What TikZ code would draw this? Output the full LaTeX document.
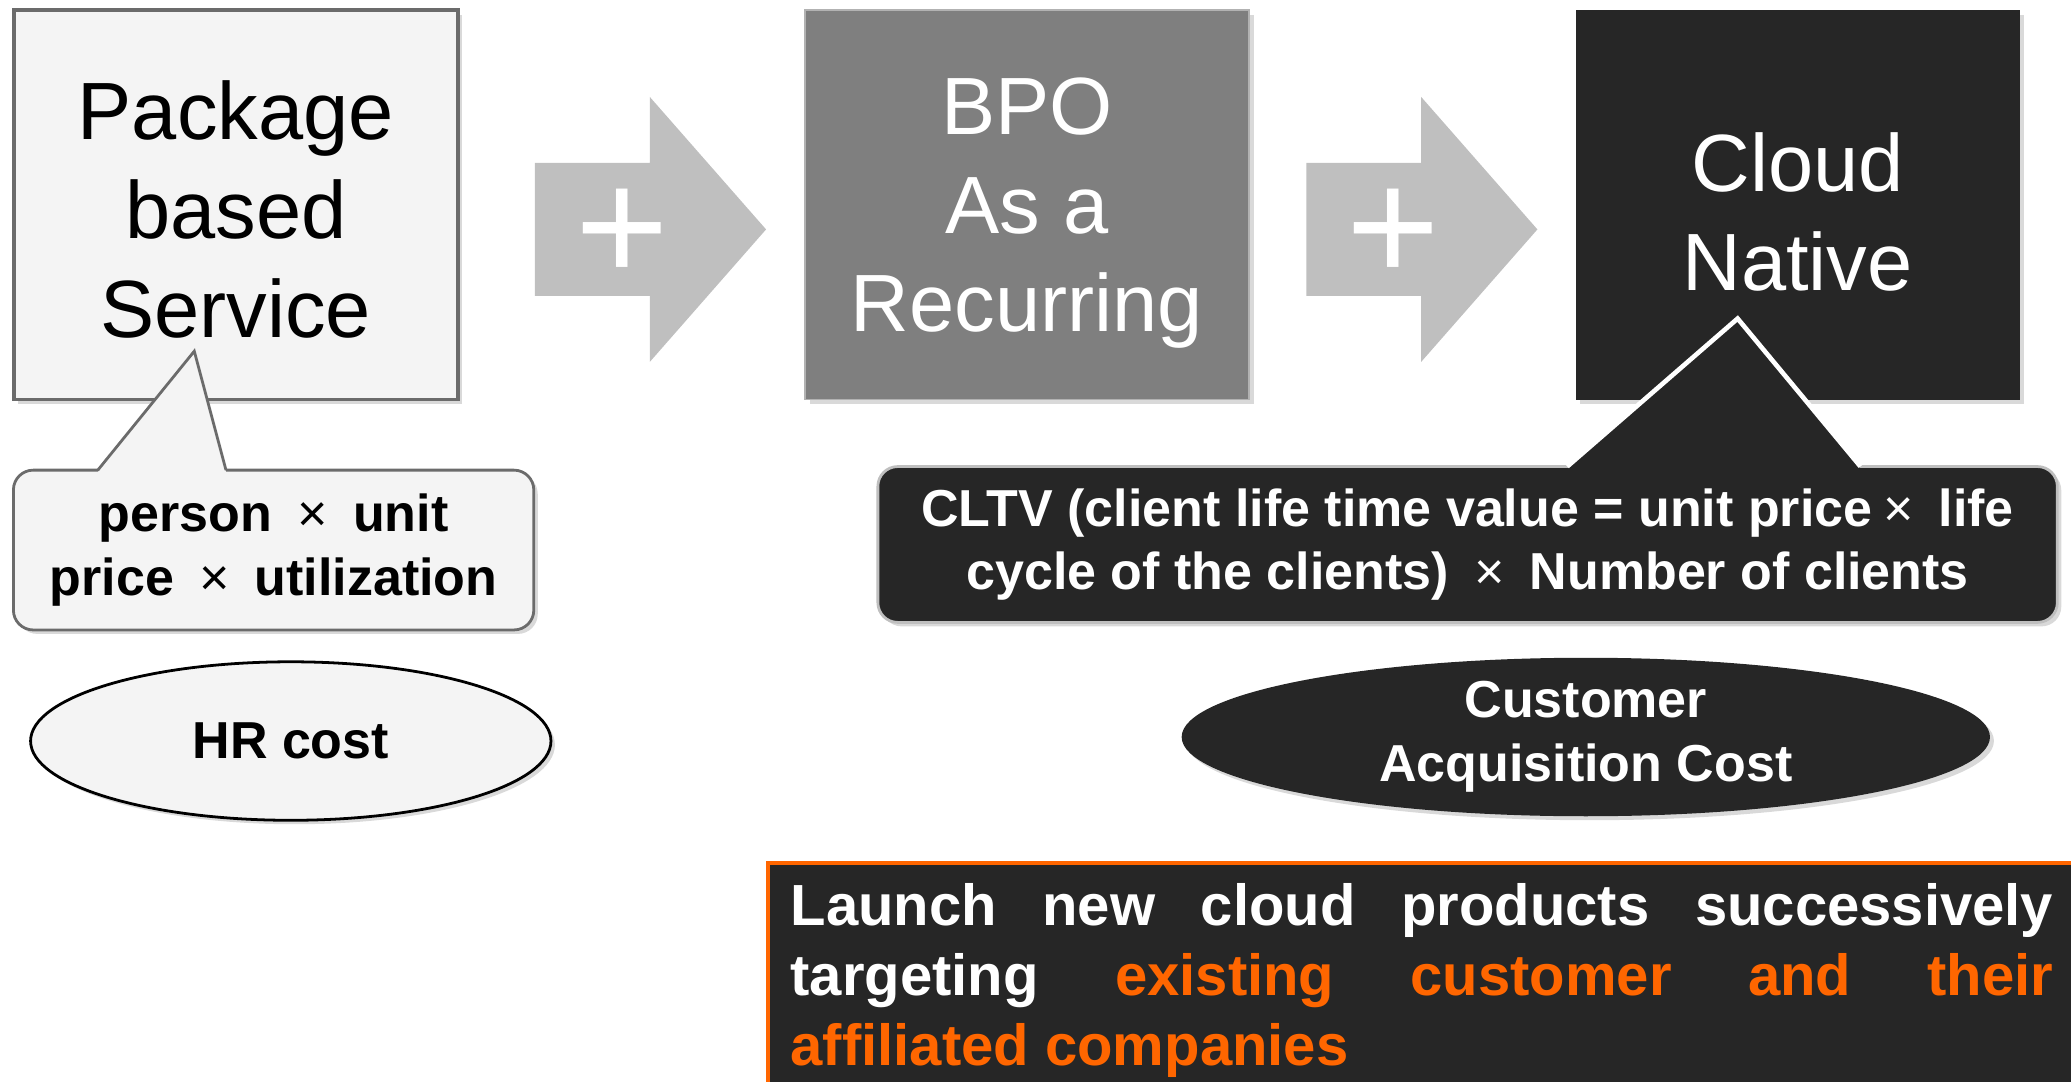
\documentclass[tikz,border=0pt]{standalone}
\usepackage{fontspec}
\setmainfont{Liberation Sans}
\usepackage{tikz}
\usetikzlibrary{positioning,calc,shapes.geometric,shadows}
\definecolor{paleface}{HTML}{F4F4F4}
\definecolor{paleline}{HTML}{6B6B6B}
\definecolor{midgray}{HTML}{7F7F7F}
\definecolor{inkdark}{HTML}{262626}
\definecolor{arrowgray}{HTML}{BFBFBF}
\definecolor{accent}{HTML}{FF6600}
\newcommand{\timessign}{\makebox[1em]{\mdseries ×}}
\tikzset{
  stage/.style={minimum width=33.6mm,minimum height=29.5mm,inner sep=0pt,align=center,text depth=0pt,font=\fontsize{17.5}{21.3}\selectfont,drop shadow={shadow xshift=0.35mm,shadow yshift=-0.35mm,opacity=0.3}},
  note/.style={rounded corners=1.5mm,line width=0.6pt,align=center,inner sep=0pt,font=\bfseries\fontsize{11.2}{13.7}\selectfont,drop shadow={shadow xshift=0.3mm,shadow yshift=-0.3mm,opacity=0.3}},
  cost/.style={ellipse,inner sep=0pt,minimum height=12mm,align=center,font=\bfseries\fontsize{11.2}{13.7}\selectfont,drop shadow={shadow xshift=0.3mm,shadow yshift=-0.3mm,opacity=0.3}},
  plusmark/.style={text=white,inner sep=0pt,font=\fontsize{34.5}{34.5}\selectfont},
}
\begin{document}
\begin{tikzpicture}[x=0.1mm,y=0.1mm]
  \useasboundingbox (0,0) rectangle (1568,819);
  \clip (0,0) rectangle (1568,819);
  \node[stage,draw=paleline,line width=0.8pt,fill=paleface,text height=57pt] (pkg) at (178.5,664) {Package\\based\\Service};
  \node[stage,draw=gray!60,fill=midgray,text=white,right=26.1mm of pkg] (bpo) {BPO\\As a\\Recurring};
  \node[stage,fill=inkdark,text=white,text height=37pt,right=24.6mm of bpo] (cld) {Cloud\\Native};
  \foreach \n/\x in {plusA/405,plusB/989} {
    \fill[arrowgray] (\x,695.6) -- ++(87,0) -- ++(0,50) -- ++(88,-100.3) -- ++(-88,-100.3) -- ++(0,50) -- ++(-87,0) -- cycle;
    \node[plusmark] (\n) at (\x+66,641) {+};
  }
  % callouts
  \node[note,draw=paleline,fill=paleface,minimum width=39.4mm,minimum height=12.1mm,below=5.1mm of pkg.south west,anchor=north west] (noteA) {person \timessign{} unit\\price \timessign{} utilization};
  \coordinate (tipA) at ($(noteA.north west)+(138,89)$);
  \fill[paleface] ($(noteA.north west)+(65,-2.5)$) -- (tipA) -- ($(noteA.north west)+(162,-2.5)$) -- cycle;
  \draw[paleline,line width=0.6pt] ($(noteA.north west)+(65,-1)$) -- (tipA) -- ($(noteA.north west)+(162,-1)$);
  \node[note,draw=gray!50,fill=inkdark,text=white,minimum width=89.3mm,minimum height=11.8mm,below=4.9mm of cld.south east,anchor=north east,xshift=2.9mm] (noteB) {CLTV (client life time value = unit price\timessign{} life\\cycle of the clients) \timessign{} Number of clients};
  \coordinate (tipB) at ($(noteB.north west)+(652,111)$);
  \fill[inkdark] ($(noteB.north west)+(523,-2.5)$) -- (tipB) -- ($(noteB.north west)+(745,-2.5)$) -- cycle;
  \draw[white,line width=1pt] ($(noteB.north west)+(523,-1)$) -- (tipB) -- ($(noteB.north west)+(745,-1)$);
  % costs
  \node[cost,draw=black,line width=0.6pt,fill=paleface,minimum width=39.4mm,below=2.2mm of noteA,xshift=1.3mm] (hr) {HR cost};
  \node[cost,fill=inkdark,text=white,minimum width=61.2mm,below=2.5mm of noteB,xshift=8.95mm] (cac) {Customer\\Acquisition Cost};
  \node[draw=accent,line width=0.9pt,fill=inkdark,text=white,anchor=north west,text width=95.6mm,inner xsep=1.7mm,inner ysep=1.5mm,align=justify,font=\bfseries\fontsize{12.5}{15.1}\selectfont] (launch) at (580,167) {Launch new cloud products successively\linebreak targeting \textcolor{accent}{existing customer and their}\linebreak \textcolor{accent}{affiliated companies}};
\end{tikzpicture}
\end{document}
